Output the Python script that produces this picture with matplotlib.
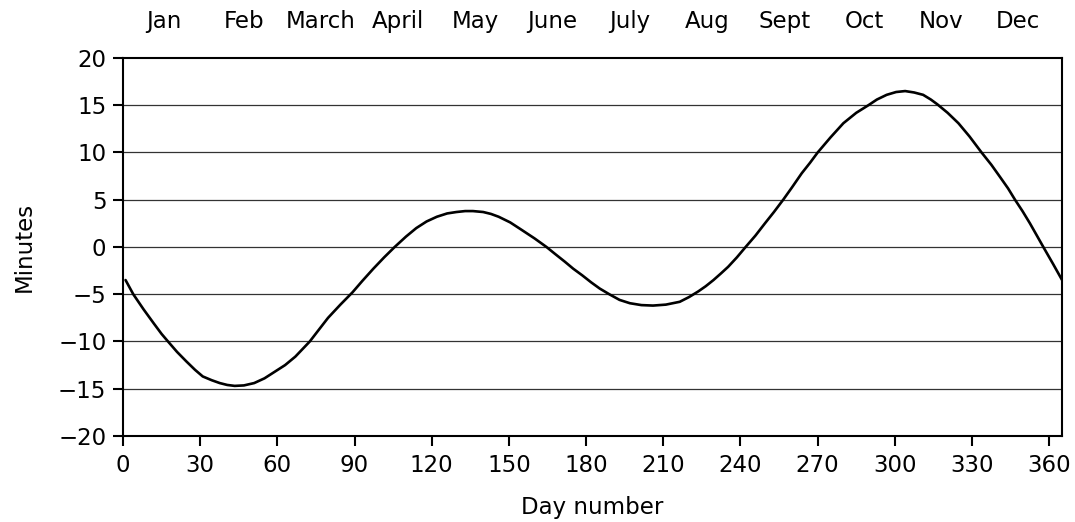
import matplotlib
matplotlib.use("Agg")
import matplotlib.pyplot as plt

plt.rcParams['font.family'] = ['DejaVu Sans']

# values (day of year, minutes)
days = [1, 4, 8, 12, 15, 17.5, 21, 24.6, 28, 31, 34.5, 37.6, 40.5, 43.4, 47,
        51, 55, 59, 63, 67, 72.6, 76, 79.7, 84.5, 89.2, 93, 97.3, 101.5,
        105.6, 110, 114, 118, 122, 126, 129.6, 133, 136, 140, 143, 146, 150.5,
        155, 160, 164.6, 168, 171.7, 175, 178.5, 182, 185.3, 189, 193, 197,
        201.5, 206, 211, 216.4, 220, 223.6, 226.5, 229.5, 232.4, 235.2, 238.6,
        242, 245.8, 249.5, 253, 256.6, 260, 263.8, 267, 270, 275, 280, 285,
        289.7, 293, 296.8, 300.5, 304, 307.5, 311, 314, 316.5, 320.5, 324.7,
        329, 333.7, 337.5, 340.9, 344, 346.7, 349.6, 352.5, 355, 357.7, 361.5,
        365]
minutes = [-3.5, -5.0, -6.6, -8.1, -9.2, -10.0, -11.1, -12.1, -13.0, -13.7,
           -14.1, -14.4, -14.6, -14.7, -14.65, -14.4, -13.9, -13.2, -12.5,
           -11.6, -10.0, -8.8, -7.5, -6.1, -4.8, -3.6, -2.3, -1.1, 0.0, 1.1,
           2.0, 2.7, 3.2, 3.55, 3.7, 3.8, 3.8, 3.7, 3.5, 3.2, 2.6, 1.8, 0.9,
           0.0, -0.75, -1.55, -2.3, -3.0, -3.75, -4.4, -5.0, -5.6, -5.95,
           -6.15, -6.2, -6.1, -5.8, -5.3, -4.7, -4.15, -3.5, -2.8, -2.1, -1.1,
           0.0, 1.2, 2.5, 3.7, 5.0, 6.3, 7.8, 8.9, 10.0, 11.6, 13.1, 14.2,
           15.0, 15.6, 16.1, 16.4, 16.5, 16.35, 16.1, 15.6, 15.1, 14.2, 13.1,
           11.7, 10.0, 8.7, 7.4, 6.2, 5.0, 3.8, 2.5, 1.3, 0.0, -1.8, -3.5]

months = ['Jan', 'Feb', 'March', 'April', 'May', 'June', 'July', 'Aug',
          'Sept', 'Oct', 'Nov', 'Dec']
month_days = [16, 47, 77, 107, 137, 167, 197, 227, 257, 288, 318, 348]

x_ticks = list(range(0, 361, 30))
y_ticks = list(range(-20, 21, 5))

fig = plt.figure(figsize=(10.75, 5.22), dpi=100)
ax = fig.add_axes([0.1144, 0.1648, 0.8736, 0.7241])

# horizontal rules at every 5 minutes
for v in y_ticks[1:-1]:
    ax.axhline(v, color='#333333', lw=0.9, zorder=1)

ax.plot(days, minutes, color='black', lw=1.9, zorder=3,
        solid_joinstyle='round', solid_capstyle='round')

ax.set_xlim(0, 365)
ax.set_ylim(-20, 20)
ax.set_xticks(x_ticks)
ax.set_yticks(y_ticks)
for s in ax.spines.values():
    s.set_linewidth(1.5)
ax.tick_params(axis='both', direction='out', length=7, width=1.5,
               labelsize=16.5)
ax.tick_params(axis='x', pad=6)
ax.tick_params(axis='y', pad=5)

ax.set_xlabel('Day number', fontsize=16.5, labelpad=14)
ax.set_ylabel('Minutes', fontsize=16.5, labelpad=16)

# month names along the top
top = ax.secondary_xaxis('top')
top.set_xticks(month_days)
top.set_xticklabels(months)
top.tick_params(length=0, pad=18, labelsize=16.5)
top.spines['top'].set_visible(False)

fig.savefig('out.png', dpi=100)
